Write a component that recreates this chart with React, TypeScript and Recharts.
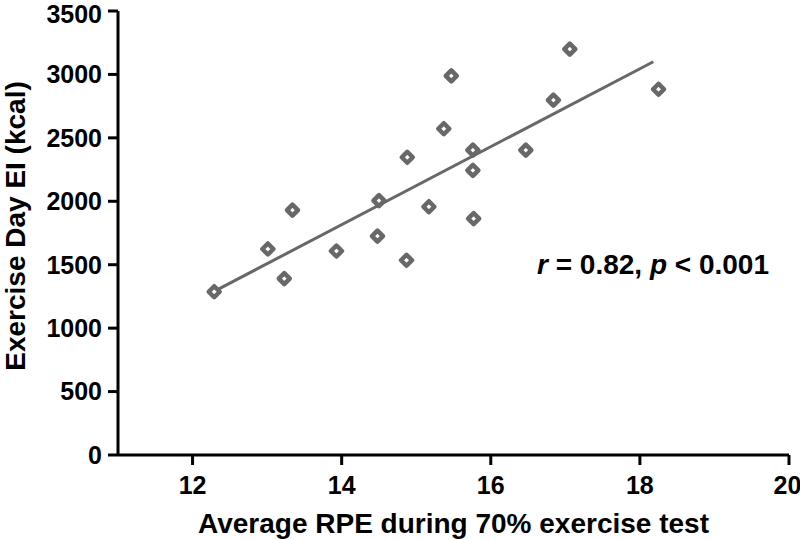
import React from "react";
import {
  ScatterChart,
  Scatter,
  XAxis,
  YAxis,
  ReferenceLine,
  ReferenceDot,
} from "recharts";

// Average RPE during the 70% test vs exercise-day energy intake
const rpe = [12.29, 13.01, 13.23, 13.34, 13.93, 14.48, 14.5, 14.87, 14.88, 15.17, 15.37, 15.47, 15.76, 15.76, 15.77, 16.47, 16.84, 17.06, 18.25];
const energyIntake = [1287, 1624, 1390, 1931, 1608, 1726, 2005, 1535, 2347, 1957, 2572, 2988, 2404, 2244, 1864, 2404, 2798, 3200, 2883];

// regression line end points
const fitStart = { x: 12.29, y: 1290 };
const fitEnd = { x: 18.18, y: 3100 };

const xTicks = [12, 14, 16, 18, 20];
const yTicks = [0, 500, 1000, 1500, 2000, 2500, 3000, 3500];

const stats = { r: "0.82", p: "0.001" };

const GREY = "#686868";
const FONT = "'Liberation Sans', Arial, sans-serif";

const points = rpe.map((x, i) => ({ x, y: energyIntake[i] }));

// rounded diamond marker with a small white hole
const Diamond = (props: any) => {
  const { cx, cy } = props;
  const h = 5.5;
  return (
    <path
      d={`M${cx},${cy - h} L${cx + h},${cy} L${cx},${cy + h} L${cx - h},${cy} Z`}
      fill="#fff"
      stroke={GREY}
      strokeWidth={4.5}
      strokeLinejoin="round"
    />
  );
};

const tickStyle = { fill: "#000", fontSize: 25, fontWeight: 700, fontFamily: FONT };

const App: React.FC = () => {
  return (
    <div style={{ width: 800, height: 540 }}>
      <style>{`body{margin:0}`}</style>
      <ScatterChart
        width={800}
        height={540}
        margin={{ top: 11, right: 11, bottom: 0, left: 0 }}
      >
        <XAxis
          type="number"
          dataKey="x"
          domain={[11, 20]}
          ticks={xTicks}
          height={85}
          axisLine={{ stroke: "#000", strokeWidth: 3 }}
          tickLine={{ stroke: "#000", strokeWidth: 3 }}
          tickSize={10}
          tickMargin={11}
          tick={tickStyle}
          label={{
            content: (p: any) => {
              const vb = p.viewBox;
              return (
                <text
                  x={vb.x + vb.width / 2}
                  y={vb.y + 78}
                  textAnchor="middle"
                  fontSize={28}
                  fontWeight={700}
                  fontFamily={FONT}
                  fill="#000"
                >
                  Average RPE during 70% exercise test
                </text>
              );
            },
          }}
        />
        <YAxis
          type="number"
          dataKey="y"
          domain={[0, 3500]}
          ticks={yTicks}
          width={118}
          axisLine={{ stroke: "#000", strokeWidth: 3 }}
          tickLine={{ stroke: "#000", strokeWidth: 3 }}
          tickSize={10}
          tickMargin={6}
          tick={tickStyle}
          label={{
            content: (p: any) => {
              const vb = p.viewBox;
              const cy = vb.y + vb.height / 2 - 7;
              return (
                <text
                  x={25}
                  y={cy}
                  transform={`rotate(-90 25 ${cy})`}
                  textAnchor="middle"
                  fontSize={28}
                  fontWeight={700}
                  fontFamily={FONT}
                  fill="#000"
                >
                  Exercise Day EI (kcal)
                </text>
              );
            },
          }}
        />
        <ReferenceLine
          segment={[fitStart, fitEnd]}
          stroke={GREY}
          strokeWidth={3}
        />
        <Scatter data={points} shape={Diamond} isAnimationActive={false} />
        <ReferenceDot
          x={16.62}
          y={1500}
          r={0}
          fill="none"
          stroke="none"
          label={{
            content: (p: any) => {
              const vb = p.viewBox;
              const x = vb.x + (vb.width || 0) / 2;
              const y = vb.y + (vb.height || 0) / 2;
              return (
                <text
                  x={x}
                  y={y + 9}
                  textAnchor="start"
                  fontSize={28}
                  fontWeight={700}
                  fontFamily={FONT}
                  fill="#000"
                >
                  <tspan fontStyle="italic">r</tspan>
                  {` = ${stats.r}, `}
                  <tspan fontStyle="italic">p</tspan>
                  {` < ${stats.p}`}
                </text>
              );
            },
          }}
        />
      </ScatterChart>
    </div>
  );
};

export default App;
